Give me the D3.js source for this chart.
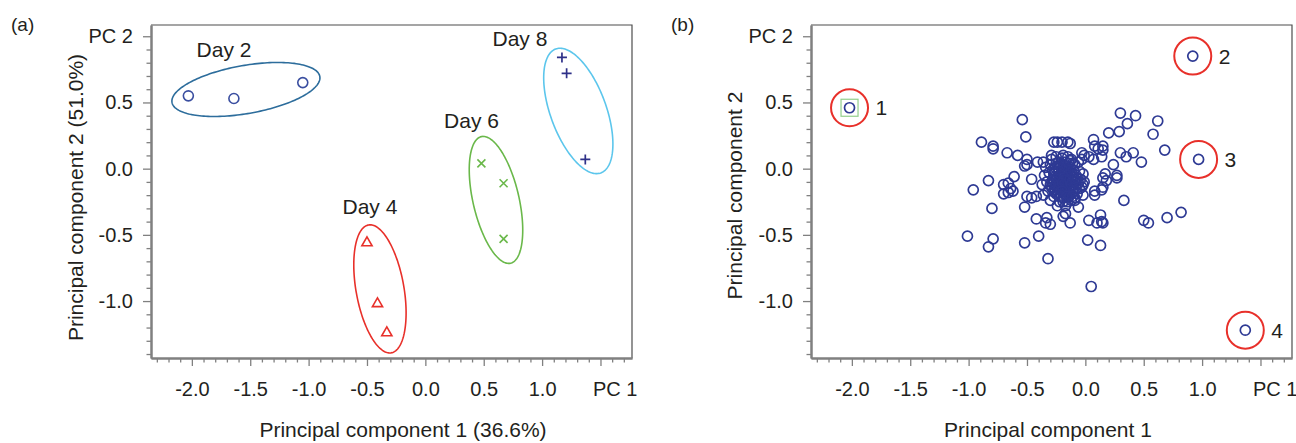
<!DOCTYPE html>
<html><head><meta charset="utf-8">
<script src="https://cdn.jsdelivr.net/npm/d3@7"></script>
<style>
body{margin:0;background:#fff}
svg{display:block}
text{font-family:"Liberation Sans",Arial,Helvetica,sans-serif;fill:#231f20}
</style>
</head><body><svg id="c" width="1296" height="443"></svg>
<script>
// ---------- data ----------
const xMajorTicks = [-2.0, -1.5, -1.0, -0.5, 0.0, 0.5, 1.0, 1.5];
const xTickLabels = ["-2.0", "-1.5", "-1.0", "-0.5", "0.0", "0.5", "1.0", "PC 1"];
const yMajorTicks = [-1.0, -0.5, 0.0, 0.5, 1.0];
const yTickLabels = ["-1.0", "-0.5", "0.0", "0.5", "PC 2"];
const xMinorTicks = [-2.3,-2.2,-2.1,-1.9,-1.8,-1.7,-1.6,-1.4,-1.3,-1.2,-1.1,-0.9,-0.8,-0.7,-0.6,-0.4,-0.3,-0.2,-0.1,0.1,0.2,0.3,0.4,0.6,0.7,0.8,0.9,1.1,1.2,1.3,1.4,1.6,1.7];
const yMinorTicks = [-1.4,-1.3,-1.2,-1.1,-0.9,-0.8,-0.7,-0.6,-0.4,-0.3,-0.2,-0.1,0.1,0.2,0.3,0.4,0.6,0.7,0.8,0.9];

const panelLabels = ["(a)", "(b)"];
const xTitles = ["Principal component 1 (36.6%)", "Principal component 1"];
const yTitles = ["Principal component 2 (51.0%)", "Principal component 2"];

// panel (a) groups
const groupNames = ["Day 2", "Day 4", "Day 6", "Day 8"];
const day2 = [[-2.03, 0.55], [-1.64, 0.53], [-1.05, 0.65]];
const day4 = [[-0.50, -0.56], [-0.41, -1.02], [-0.33, -1.24]];
const day6 = [[0.48, 0.04], [0.67, -0.11], [0.67, -0.53]];
const day8 = [[1.17, 0.84], [1.21, 0.72], [1.37, 0.07]];
// group label anchors (data units)
const groupLabelPos = [[-1.725, 0.845], [-0.475, -0.345], [0.395, 0.31], [0.81, 0.93]];
// confidence ellipses: centre, semi-axis vector u, semi-axis vector v (data units)
const ellipseCentres = [[-1.537, 0.598], [-0.389, -0.908], [0.605, -0.236], [1.310, 0.436]];
const ellipseU = [[0.633, 0.098], [0.097, -0.483], [0.125, -0.478], [0.193, -0.468]];
const ellipseV = [[0.036, -0.179], [0.202, 0.031], [0.192, 0.039], [0.225, 0.072]];

// panel (b) loadings
const outliers = [[-2.02, 0.46], [0.92, 0.85], [0.97, 0.07], [1.37, -1.22]];
const outlierLabels = ["1", "2", "3", "4"];
const scatterOuter = [
[-0.54,0.37],[-0.51,0.24],[-0.89,0.20],[-0.79,0.17],[-0.79,0.15],[-0.67,0.12],[-0.58,0.10],[-0.50,0.07],
[-0.50,0.03],[-0.52,0.02],[-0.41,0.05],[-0.36,0.05],[-0.27,0.20],[-0.24,0.20],[-0.20,0.20],[-0.15,0.20],
[-0.29,0.10],[-0.19,0.10],[-0.61,-0.06],[-0.46,-0.08],[-0.83,-0.09],[-0.96,-0.16],[-0.70,-0.12],[-0.66,-0.11],
[-0.64,-0.15],[0.30,0.42],[0.43,0.40],[0.36,0.34],[0.29,0.28],[0.20,0.27],[0.62,0.36],[0.58,0.26],
[0.68,0.14],[-0.13,0.19],[0.07,0.22],[0.08,0.17],[0.11,0.15],[0.15,0.17],[0.15,0.14],[0.30,0.12],
[0.41,0.12],[0.35,0.09],[0.48,0.05],[-0.03,0.12],[0.03,0.09],[0.07,0.07],[0.14,0.09],[0.24,0.03],
[0.17,-0.04],[0.15,-0.07],[0.18,-0.09],[0.27,-0.05],[0.27,-0.07],[-0.02,-0.12],[0.08,-0.17],[0.15,-0.14],
[-0.01,0.10],[-0.03,0.07],
[-0.70,-0.19],[-0.66,-0.18],[-0.62,-0.17],[-0.80,-0.30],[-0.52,-0.29],[-0.50,-0.21],[-0.46,-0.22],[-0.42,-0.21],
[-0.42,-0.38],[-0.33,-0.37],[-0.34,-0.41],[-0.30,-0.42],[-0.17,-0.34],[-0.19,-0.36],[-0.13,-0.41],[-1.01,-0.51],
[-0.79,-0.53],[-0.83,-0.59],[-0.52,-0.56],[-0.40,-0.51],[-0.32,-0.68],[0.33,-0.24],[-0.13,-0.19],[-0.09,-0.24],
[-0.06,-0.29],[-0.02,-0.20],[0.08,-0.20],[0.14,-0.16],[0.03,-0.39],[0.10,-0.41],[0.13,-0.35],[0.14,-0.40],
[0.15,-0.41],[0.50,-0.39],[0.54,-0.41],[0.70,-0.37],[0.82,-0.33],[0.02,-0.54],[0.13,-0.58],[0.05,-0.89]
];
const scatterCore = [
[-0.19,-0.08],[-0.22,-0.05],[-0.16,-0.04],[-0.24,-0.11],[-0.14,-0.10],[-0.20,-0.14],[-0.18,-0.01],[-0.26,-0.02],
[-0.12,-0.06],[-0.28,-0.08],[-0.10,-0.12],[-0.23,-0.18],[-0.16,-0.17],[-0.21,0.02],[-0.13,0.01],[-0.29,-0.14],
[-0.08,-0.05],[-0.25,0.04],[-0.17,0.05],[-0.31,-0.03],[-0.11,-0.18],[-0.27,-0.21],[-0.19,-0.22],[-0.06,-0.11],
[-0.09,0.03],[-0.33,-0.10],[-0.15,-0.25],[-0.22,-0.25],[-0.05,-0.02],[-0.30,0.03],[-0.20,0.08],[-0.12,0.07],
[-0.35,-0.05],[-0.07,-0.19],[-0.26,-0.16],[-0.18,-0.11],[-0.21,-0.09],[-0.15,-0.07],[-0.24,-0.06],[-0.17,-0.13],
[-0.13,-0.14],[-0.27,-0.11],[-0.10,-0.01],[-0.32,-0.17],[-0.04,-0.08],[-0.14,-0.21],[-0.29,0.07],[-0.23,0.00],
[-0.16,0.00],[-0.20,-0.03],[-0.11,-0.09],[-0.25,-0.13],[-0.18,-0.17],[-0.08,-0.15],[-0.34,0.01],[-0.02,-0.04],
[-0.24,-0.28],[-0.12,-0.24],[-0.17,-0.28],[-0.06,0.05],[-0.15,0.09],[-0.25,0.09],[-0.37,-0.12],[-0.03,-0.14],
[-0.30,-0.24],[-0.09,-0.22],[-0.21,-0.20],[-0.19,0.03],[-0.27,-0.04],[-0.13,-0.03],[-0.22,-0.12],[-0.16,-0.09],
[-0.20,-0.06],[-0.18,-0.05],[-0.23,-0.09],[-0.14,-0.16],[-0.26,0.01],[-0.11,0.04],[-0.36,-0.20],[-0.01,-0.10],
[-0.21,-0.07],[-0.17,-0.07],[-0.19,-0.04],[-0.23,-0.03],[-0.15,-0.12],[-0.19,-0.12],[-0.22,-0.15],[-0.13,-0.08],
[-0.25,-0.08],[-0.17,-0.15],[-0.21,-0.11],[-0.15,-0.02],[-0.12,-0.12],[-0.24,-0.15],[-0.18,-0.19],[-0.14,-0.19],
[-0.26,-0.06],[-0.10,-0.07],[-0.20,0.00],[-0.16,0.02],[-0.12,-0.02],[-0.28,-0.11],[-0.22,-0.21],[-0.10,-0.15],
[-0.27,-0.17],[-0.08,-0.10],[-0.24,0.01],[-0.14,0.04],[-0.18,0.02],[-0.20,-0.17],[-0.16,-0.21],[-0.25,-0.19],
[-0.28,-0.01],[-0.07,-0.07],[-0.11,-0.21],[-0.19,-0.25],[-0.23,0.05],[-0.13,0.06],[-0.30,-0.12],[-0.05,-0.15]
];

// ---------- drawing ----------
const svg = d3.select("#c");
const ink = "#231f20", axisGrey = "#808080";
const xDomain = [-2.35, 1.77], yDomain = [-1.43, 1.085];
const panels = [{ox: 0}, {ox: 660}];

function makePanel(i) {
  const ox = panels[i].ox;
  const x = d3.scaleLinear().domain(xDomain).range([151 + ox, 632 + ox]);
  const y = d3.scaleLinear().domain(yDomain).range([358, 25]);
  const g = svg.append("g");
  g.append("path")
    .attr("d", `M${x(xDomain[0])},${y(yDomain[1])}H${x(xDomain[1])}V${y(yDomain[0])}`)
    .attr("fill", "none").attr("stroke", "#4d4d4d").attr("stroke-width", 1.2);
  const xMin = d3.axisBottom(x).tickValues(xMinorTicks).tickSize(4.5).tickSizeOuter(0).tickFormat("");
  const yMin = d3.axisLeft(y).tickValues(yMinorTicks).tickSize(4.5).tickSizeOuter(0).tickFormat("");
  const xMaj = d3.axisBottom(x).tickValues(xMajorTicks).tickSize(8).tickSizeOuter(0).tickPadding(16)
    .tickFormat((d, k) => xTickLabels[k]);
  const yMaj = d3.axisLeft(y).tickValues(yMajorTicks).tickSize(8).tickSizeOuter(0).tickPadding(10)
    .tickFormat((d, k) => yTickLabels[k]);
  [[xMin, "b"], [xMaj, "b"], [yMin, "l"], [yMaj, "l"]].forEach(([ax, side]) => {
    const a = g.append("g")
      .attr("transform", side === "b" ? `translate(0,${y(yDomain[0])})` : `translate(${x(xDomain[0])},0)`)
      .call(ax);
    a.select(".domain").attr("stroke", axisGrey).attr("stroke-width", 2);
    a.selectAll(".tick line").attr("stroke", axisGrey).attr("stroke-width", 1.3);
    a.selectAll(".tick text").attr("fill", ink).style("font-size", "20px")
      .style("font-family", '"Liberation Sans",Arial,sans-serif');
  });
  g.selectAll(".tick text").filter(function(){ return d3.select(this).text() === "PC 1"; })
    .attr("text-anchor", "start").attr("dx", -8);
  g.append("text").attr("x", i === 0 ? 403 : 1048).attr("y", 437)
    .attr("text-anchor", "middle").style("font-size", "21px").text(xTitles[i]);
  g.append("text").attr("transform", `translate(${i === 0 ? 83 : 742},${i === 0 ? 197.5 : 195.5}) rotate(-90)`)
    .attr("text-anchor", "middle").style("font-size", "21px").text(yTitles[i]);
  g.append("text").attr("x", 11 + ox).attr("y", 31).style("font-size", "19px").text(panelLabels[i]);
  return {g, x, y};
}

// panel (a)
{
  const {g, x, y} = makePanel(0);
  const ellColors = ["#2d6d9c", "#e8302a", "#6ab84a", "#5cc6ec"];
  const ts = d3.range(0, 2 * Math.PI + 0.001, Math.PI / 90);
  ellipseCentres.forEach((c, k) => {
    const u = ellipseU[k], v = ellipseV[k];
    const pts = ts.map(t => [x(c[0] + Math.cos(t) * u[0] + Math.sin(t) * v[0]),
                             y(c[1] + Math.cos(t) * u[1] + Math.sin(t) * v[1])]);
    g.append("path").attr("d", d3.line()(pts) + "Z").attr("fill", "none")
      .attr("stroke", ellColors[k]).attr("stroke-width", 1.6);
  });
  g.selectAll(".d2").data(day2).join("circle").attr("cx", d => x(d[0])).attr("cy", d => y(d[1]))
    .attr("r", 5).attr("fill", "none").attr("stroke", "#3a4ea0").attr("stroke-width", 1.6);
  g.selectAll(".d4").data(day4).join("path")
    .attr("transform", d => `translate(${x(d[0])},${y(d[1])})`)
    .attr("d", d3.symbol(d3.symbolTriangle, 45)).attr("fill", "none")
    .attr("stroke", "#e8302a").attr("stroke-width", 1.6);
  g.selectAll(".d6").data(day6).join("path")
    .attr("transform", d => `translate(${x(d[0])},${y(d[1])})`)
    .attr("d", "M-4,-4L4,4M-4,4L4,-4").attr("fill", "none")
    .attr("stroke", "#6ab84a").attr("stroke-width", 1.6);
  g.selectAll(".d8").data(day8).join("path")
    .attr("transform", d => `translate(${x(d[0])},${y(d[1])})`)
    .attr("d", "M-5,0H5M0,-5V5").attr("fill", "none")
    .attr("stroke", "#2e3088").attr("stroke-width", 1.7);
  groupNames.forEach((n, k) => {
    g.append("text").attr("x", x(groupLabelPos[k][0])).attr("y", y(groupLabelPos[k][1]))
      .attr("text-anchor", "middle").style("font-size", "21px").text(n);
  });
}

// panel (b)
{
  const {g, x, y} = makePanel(1);
  const blue = "#2e3a94";
  const all = scatterOuter.concat(scatterCore, outliers);
  g.selectAll(".pt").data(all).join("circle").attr("cx", d => x(d[0])).attr("cy", d => y(d[1]))
    .attr("r", 5).attr("fill", "none").attr("stroke", blue).attr("stroke-width", 1.7);
  const o1 = outliers[0];
  g.append("rect").attr("x", x(o1[0]) - 8.5).attr("y", y(o1[1]) - 8.5).attr("width", 17).attr("height", 17)
    .attr("fill", "none").attr("stroke", "#93cf8c").attr("stroke-width", 1.2);
  g.selectAll(".ring").data(outliers).join("circle").attr("cx", d => x(d[0])).attr("cy", d => y(d[1]))
    .attr("r", 18.5).attr("fill", "none").attr("stroke", "#e8302a").attr("stroke-width", 2);
  g.selectAll(".olab").data(outliers).join("text")
    .attr("x", d => x(d[0]) + 26).attr("y", d => y(d[1]) + 7.5)
    .style("font-size", "21px").text((d, k) => outlierLabels[k]);
}
</script>
</body></html>
